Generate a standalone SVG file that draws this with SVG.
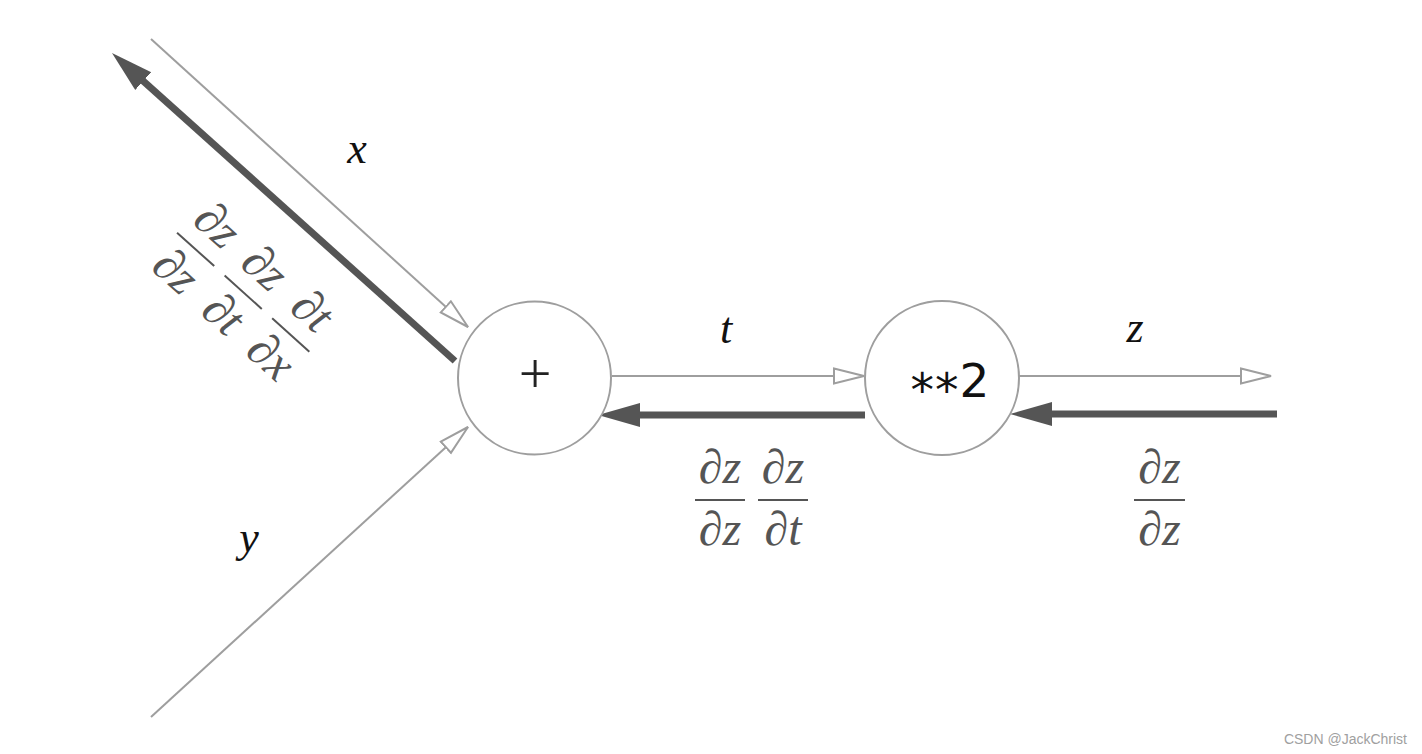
<svg xmlns="http://www.w3.org/2000/svg" width="1422" height="754" viewBox="0 0 1422 754">
<style>
.thin{stroke:#9e9e9e;stroke-width:2;fill:none}
.thick{stroke:#555;stroke-width:7;fill:none}
.node{stroke:#9e9e9e;stroke-width:2;fill:#fff}
.lbl{font-family:"Liberation Serif",serif;font-style:italic;font-size:44px;fill:#111;text-anchor:middle}
.frac{font-family:"Liberation Serif",serif;font-style:italic;font-size:48px;fill:#555;text-anchor:middle}
.bar{stroke:#555;stroke-width:2}
</style>
<defs>
<marker id="open" markerUnits="userSpaceOnUse" markerWidth="34" markerHeight="20" refX="31" refY="9" orient="auto" viewBox="0 0 34 18">
<path d="M1,1.5 L31,9 L1,16.5 Z" fill="#fff" stroke="#9e9e9e" stroke-width="2"/>
</marker>
<marker id="solid" markerUnits="userSpaceOnUse" markerWidth="44" markerHeight="26" refX="10" refY="12" orient="auto" viewBox="0 0 44 24">
<path d="M0,0 L42,12 L0,24 Z" fill="#555"/>
</marker>
</defs>
<g id="connectors">
<line class="thin" x1="151" y1="39" x2="468" y2="327" marker-end="url(#open)"/>
<line class="thin" x1="151" y1="717" x2="468" y2="427" marker-end="url(#open)"/>
<line class="thin" x1="612" y1="376" x2="864" y2="376" marker-end="url(#open)"/>
<line class="thin" x1="1019" y1="376" x2="1271" y2="376" marker-end="url(#open)"/>
<line class="thick" x1="455" y1="361" x2="135.8" y2="74.4" marker-end="url(#solid)"/>
<line class="thick" x1="865" y1="415" x2="630" y2="415" marker-end="url(#solid)"/>
<line class="thick" x1="1277" y1="414" x2="1042" y2="414" marker-end="url(#solid)"/>
</g>
<g id="node-plus">
<circle class="node" cx="534.5" cy="378" r="76.5"/>
<text x="535" y="393" style="font-family:'Liberation Serif',serif;font-size:58px;fill:#222;text-anchor:middle">+</text>
</g>
<g id="node-square">
<circle class="node" cx="942" cy="378" r="77"/>
<text x="950" y="397" style="font-family:'DejaVu Sans',sans-serif;font-size:47px;fill:#111;text-anchor:middle"><tspan dy="9" letter-spacing="1">**</tspan><tspan dy="-9">2</tspan></text>
</g>
<g id="labels">
<text class="lbl" x="357" y="163">x</text>
<text class="lbl" x="249" y="552">y</text>
<text class="lbl" x="726" y="343">t</text>
<text class="lbl" x="1135" y="342">z</text>
</g>
<g id="grad-t">
<text class="frac" x="720" y="483">∂z</text>
<line class="bar" x1="695" y1="500" x2="745" y2="500"/>
<text class="frac" x="720" y="545">∂z</text>
<text class="frac" x="783" y="483">∂z</text>
<line class="bar" x1="758" y1="500" x2="808" y2="500"/>
<text class="frac" x="783" y="545">∂t</text>
</g>
<g id="grad-z">
<text class="frac" x="1159.5" y="483">∂z</text>
<line class="bar" x1="1134" y1="500" x2="1185" y2="500"/>
<text class="frac" x="1159.5" y="545">∂z</text>
</g>
<g id="grad-x" transform="translate(243.2,292.2) rotate(42)">
<text class="frac" x="-64" y="-17">∂z</text>
<line class="bar" x1="-89" y1="0" x2="-39" y2="0"/>
<text class="frac" x="-64" y="45">∂z</text>
<text class="frac" x="0" y="-17">∂z</text>
<line class="bar" x1="-25" y1="0" x2="25" y2="0"/>
<text class="frac" x="0" y="45">∂t</text>
<text class="frac" x="64" y="-17">∂t</text>
<line class="bar" x1="39" y1="0" x2="89" y2="0"/>
<text class="frac" x="64" y="45">∂x</text>
</g>
<text x="1407" y="744" style="font-family:'Liberation Sans',sans-serif;font-size:14px;fill:#a0a0a0;text-anchor:end">CSDN @JackChrist</text>
</svg>
